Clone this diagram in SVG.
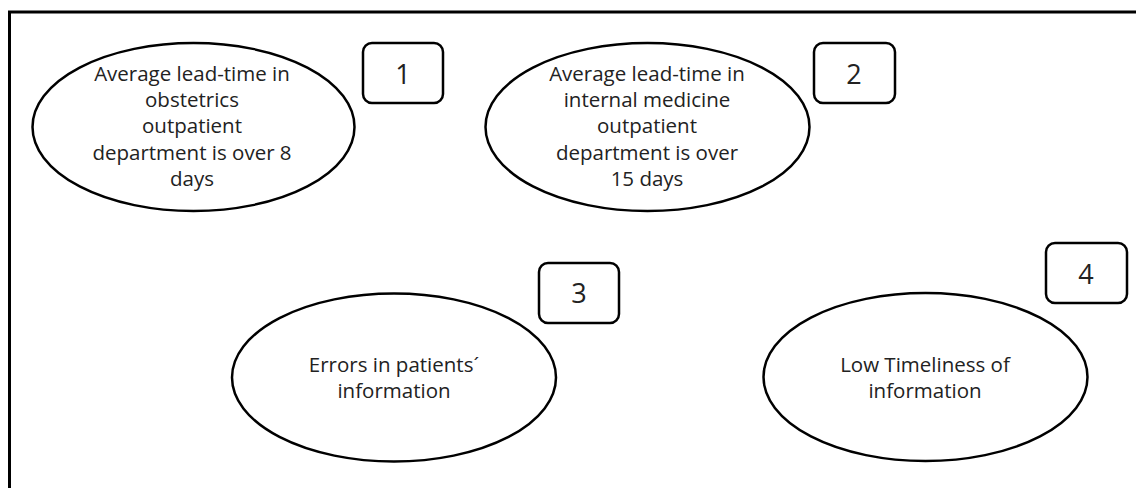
<svg xmlns="http://www.w3.org/2000/svg" width="1136" height="488" viewBox="0 0 1136 488">
<style>
.ell{fill:#fff;stroke:#000;stroke-width:2.5}
.box{fill:#fff;stroke:#000;stroke-width:2.5}
.t{font-family:"Open Sans","Liberation Sans",sans-serif;font-size:20.5px;fill:#222;text-anchor:middle}
.n{font-family:"Open Sans","Liberation Sans",sans-serif;font-size:27px;fill:#222;text-anchor:middle}
</style>
<rect width="1136" height="488" fill="#fff"/>
<path d="M9.5,488 V12 H1136" fill="none" stroke="#000" stroke-width="3"/>
<g id="connectors"/>
<g id="node1">
<ellipse class="ell" cx="193.5" cy="127" rx="161" ry="84"/>
<text class="t" x="192" y="81">Average lead-time in</text>
<text class="t" x="192" y="107">obstetrics</text>
<text class="t" x="192" y="133">outpatient</text>
<text class="t" x="192" y="160">department is over 8</text>
<text class="t" x="192" y="186">days</text>
</g>
<g id="box1">
<rect class="box" x="363" y="43" width="80" height="60" rx="9"/>
<text class="n" x="403" y="84">1</text>
</g>
<g id="node2">
<ellipse class="ell" cx="647.5" cy="127" rx="162" ry="84"/>
<text class="t" x="647" y="81">Average lead-time in</text>
<text class="t" x="647" y="107">internal medicine</text>
<text class="t" x="647" y="133">outpatient</text>
<text class="t" x="647" y="160">department is over</text>
<text class="t" x="647" y="186">15 days</text>
</g>
<g id="box2">
<rect class="box" x="814" y="43" width="81" height="60" rx="9"/>
<text class="n" x="854" y="84">2</text>
</g>
<g id="node3">
<ellipse class="ell" cx="394" cy="377.5" rx="162" ry="84"/>
<text class="t" x="394" y="372">Errors in patients´</text>
<text class="t" x="394" y="398">information</text>
</g>
<g id="box3">
<rect class="box" x="539" y="263" width="80" height="60" rx="9"/>
<text class="n" x="579" y="303">3</text>
</g>
<g id="node4">
<ellipse class="ell" cx="925.5" cy="377" rx="162" ry="84"/>
<text class="t" x="925" y="372">Low Timeliness of</text>
<text class="t" x="925" y="398">information</text>
</g>
<g id="box4">
<rect class="box" x="1046" y="243" width="81" height="60" rx="9"/>
<text class="n" x="1086" y="284">4</text>
</g>
</svg>
